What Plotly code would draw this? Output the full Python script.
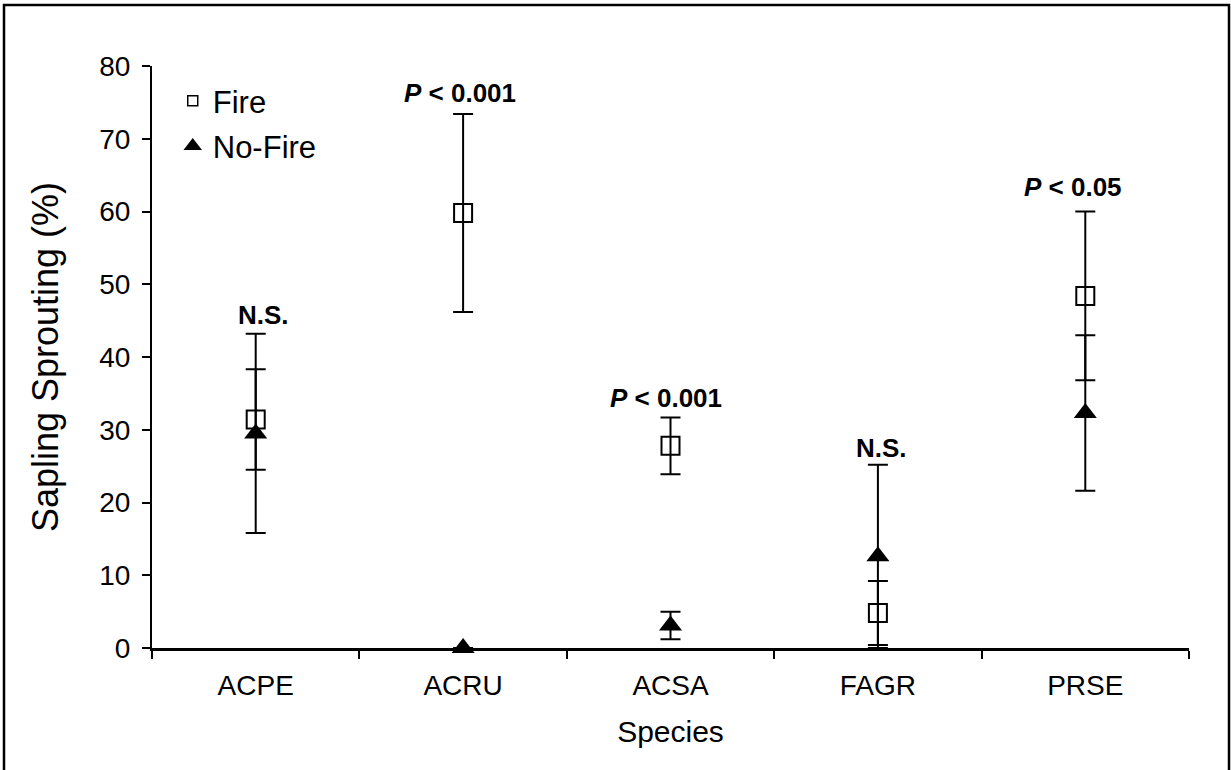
import plotly.graph_objects as go

species = ["ACPE", "ACRU", "ACSA", "FAGR", "PRSE"]
fire_mean = [31.4, 59.8, 27.8, 4.8, 48.4]
fire_err = [6.9, 13.6, 3.9, 4.4, 11.6]
nofire_mean = [29.5, 0.0, 3.1, 12.6, 32.3]
nofire_err = [13.7, 0.0, 1.9, 12.6, 10.7]
sig_labels = ["N.S.", "<i>P</i> < 0.001", "<i>P</i> < 0.001", "N.S.", "<i>P</i> < 0.05"]
sig_y = [45.8, 76.3, 34.4, 27.5, 63.4]
sig_xshift = [8, -3, -5, 4, -12]

FONT = "Liberation Sans, Arial, sans-serif"

fig = go.Figure()

fig.add_trace(go.Scatter(
    x=species, y=fire_mean, mode="markers", name="Fire", showlegend=False,
    marker=dict(symbol="square-open", size=18, color="black", line=dict(width=2, color="black")),
    error_y=dict(type="data", array=fire_err, visible=True, color="black", thickness=2, width=10),
))
fig.add_trace(go.Scatter(
    x=species, y=nofire_mean, mode="markers", name="No-Fire", showlegend=False,
    cliponaxis=False,
    marker=dict(symbol="triangle-up", size=20, color="black", line=dict(width=0)),
    error_y=dict(type="data", array=nofire_err, visible=True, color="black", thickness=2, width=10),
))
# legend entries
fig.add_trace(go.Scatter(
    x=[None], y=[None], mode="markers", name="Fire", legendgroup="a",
    marker=dict(symbol="square-open", size=10, color="black", line=dict(width=1.5, color="black")),
))
fig.add_trace(go.Scatter(
    x=[None], y=[None], mode="markers", name="No-Fire", legendgroup="b",
    marker=dict(symbol="triangle-up", size=16, color="black"),
))

for sp, lab, yy, xs in zip(species, sig_labels, sig_y, sig_xshift):
    fig.add_annotation(x=sp, y=yy, xref="x", yref="y", text="<b>" + lab + "</b>", xshift=xs,
                       showarrow=False, font=dict(family=FONT, size=26, color="black"))

# outer frame (top, left, right)
L, R, T, B = 152, 1189, 66, 648
def px(v):
    return (v - L) / (R - L)
def py(v):
    return (B - v) / (B - T)
fig.add_shape(type="path", xref="paper", yref="paper",
              path=f"M {px(4)},{py(775)} L {px(4)},{py(5)} L {px(1229)},{py(5)} L {px(1229)},{py(775)}",
              line=dict(color="black", width=2.5))

fig.update_layout(
    width=1231, height=770,
    margin=dict(l=L, r=1231 - R, t=T, b=770 - B),
    paper_bgcolor="white", plot_bgcolor="white",
    font=dict(family=FONT, color="black", size=28),
    showlegend=True,
    legend=dict(x=0.02, y=0.986, xanchor="left", yanchor="top", bgcolor="rgba(0,0,0,0)",
                font=dict(family=FONT, size=31), itemsizing="trace", itemwidth=30,
                traceorder="grouped", tracegroupgap=2),
    xaxis=dict(type="category", range=[-0.5, 4.5], tickson="boundaries", ticks="outside",
               ticklen=8, tickwidth=2, tickcolor="black", showline=True, linewidth=3,
               linecolor="black", showgrid=False, zeroline=False, ticklabelstandoff=10,
               layer="below traces",
               tickfont=dict(family=FONT, size=28),
               title=dict(text="Species", font=dict(family=FONT, size=30), standoff=22)),
    yaxis=dict(range=[0, 80], dtick=10, ticks="outside", ticklen=8, tickwidth=2,
               tickcolor="black", showline=True, linewidth=2, linecolor="black",
               showgrid=False, zeroline=False, ticklabelstandoff=6,
               layer="below traces",
               tickfont=dict(family=FONT, size=28),
               title=dict(text="Sapling Sprouting (%)", font=dict(family=FONT, size=36), standoff=30)),
)

fig.write_html("out.html")
